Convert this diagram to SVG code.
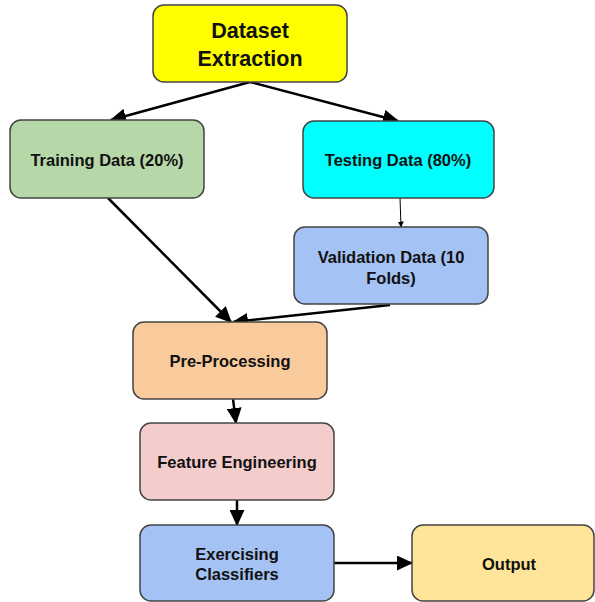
<svg xmlns="http://www.w3.org/2000/svg" width="595" height="602" viewBox="0 0 595 602">
<style>
.box{stroke:#444;stroke-width:1.5}
.t{font-family:"Liberation Sans",Arial,sans-serif;font-weight:bold;fill:#111;text-anchor:middle}
.s{font-size:16.5px}
.big{font-size:21.5px}
.c{stroke:#000;stroke-width:2.5;fill:none;marker-end:url(#ah)}
.thin{stroke:#000;stroke-width:1;fill:none;marker-end:url(#ahs)}
</style>
<defs>
<marker id="ah" markerWidth="6.5" markerHeight="6" refX="6" refY="3" orient="auto" markerUnits="strokeWidth" viewBox="0 0 6.5 6"><path d="M0,0 L6.5,3 L0,6 z" fill="#000"/></marker>
<marker id="ahs" markerWidth="6" markerHeight="6" refX="5.5" refY="3" orient="auto" markerUnits="strokeWidth" viewBox="0 0 6 6"><path d="M0,0 L6,3 L0,6 z" fill="#000"/></marker>
</defs>
<rect width="595" height="602" fill="#fff"/>
<g id="connectors">
<line class="c" x1="250" y1="82" x2="111" y2="120"/>
<line class="c" x1="250" y1="82" x2="398" y2="121"/>
<line class="thin" x1="400" y1="198" x2="401" y2="227"/>
<line class="c" x1="108" y1="198" x2="231" y2="322"/>
<line class="c" x1="390" y1="305" x2="233" y2="322"/>
<line class="c" x1="233" y1="399" x2="236" y2="423"/>
<line class="c" x1="237" y1="500" x2="237" y2="525"/>
<line class="c" x1="334" y1="563" x2="412" y2="563"/>
</g>
<g id="dataset">
<rect class="box" x="153" y="5" width="194" height="77" rx="11" fill="#ffff00"/>
<text class="t big" x="250" y="38">Dataset</text>
<text class="t big" x="250" y="66">Extraction</text>
</g>
<g id="training">
<rect class="box" x="10" y="120" width="194" height="78" rx="11" fill="#b6d7a8"/>
<text class="t s" x="107" y="166">Training Data (20%)</text>
</g>
<g id="testing">
<rect class="box" x="303" y="121" width="191" height="77" rx="11" fill="#00ffff"/>
<text class="t s" x="398" y="166">Testing Data (80%)</text>
</g>
<g id="validation">
<rect class="box" x="294" y="227" width="194" height="77" rx="11" fill="#a4c2f4"/>
<text class="t s" x="391" y="263">Validation Data (10</text>
<text class="t s" x="391" y="284">Folds)</text>
</g>
<g id="preprocessing">
<rect class="box" x="133" y="322" width="194" height="77" rx="11" fill="#f9cb9c"/>
<text class="t s" x="230" y="367">Pre-Processing</text>
</g>
<g id="feature">
<rect class="box" x="140" y="423" width="194" height="77" rx="11" fill="#f4cccc"/>
<text class="t s" x="237" y="468">Feature Engineering</text>
</g>
<g id="classifiers">
<rect class="box" x="140" y="525" width="194" height="76" rx="11" fill="#a4c2f4"/>
<text class="t s" x="237" y="560">Exercising</text>
<text class="t s" x="237" y="580">Classifiers</text>
</g>
<g id="output">
<rect class="box" x="412" y="525" width="182" height="76" rx="11" fill="#ffe599"/>
<text class="t s" x="509" y="570">Output</text>
</g>
</svg>
